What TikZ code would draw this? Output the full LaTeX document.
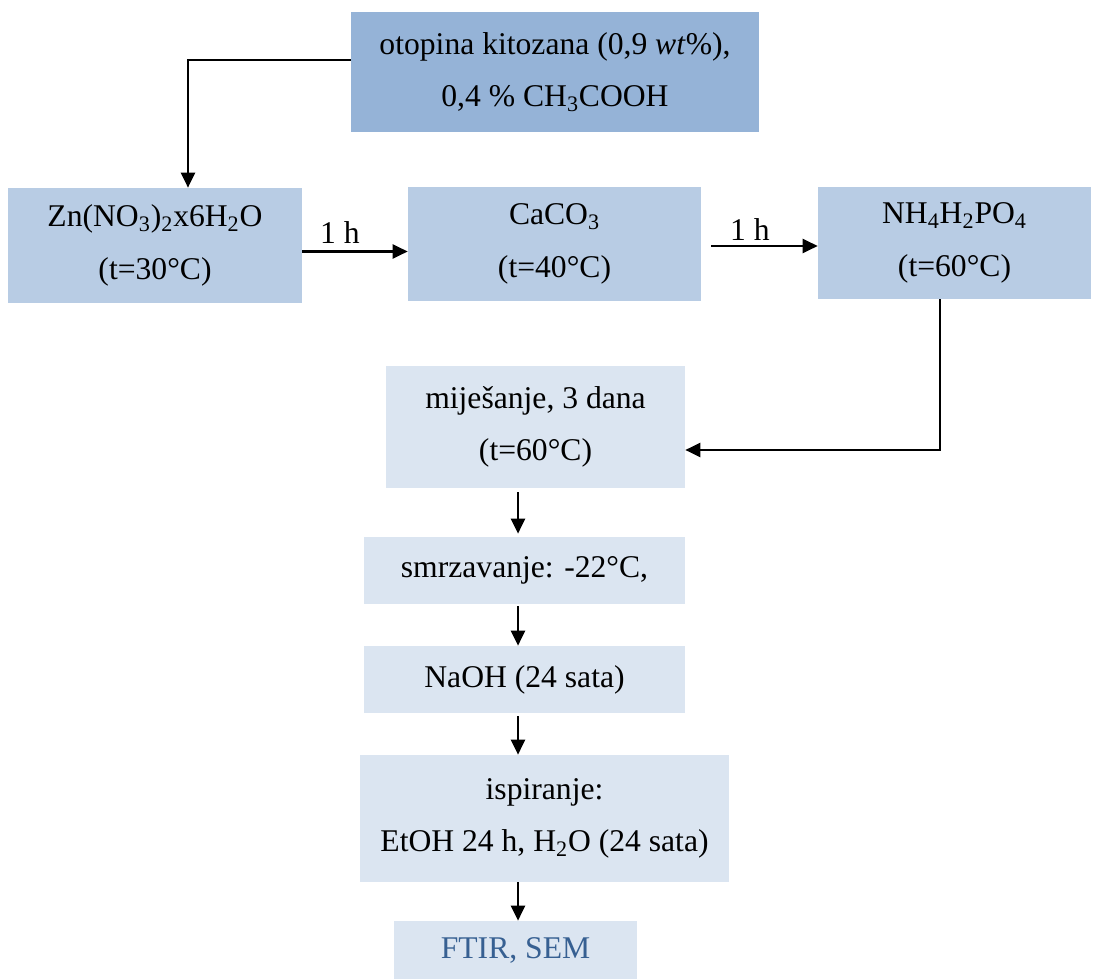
\documentclass[tikz,border=0pt]{standalone}
\usepackage{fontspec}
\setmainfont{Liberation Serif}
\usetikzlibrary{arrows.meta}
\definecolor{boxdark}{HTML}{95B3D7}
\definecolor{boxmid}{HTML}{B8CCE4}
\definecolor{boxlight}{HTML}{DBE5F1}
\definecolor{textblue}{HTML}{376092}
\begin{document}
\begin{tikzpicture}[x=0.02cm,y=-0.02cm,
  box/.style={inner sep=0pt,align=center,font=\fontsize{18}{30}\selectfont},
  lbl/.style={font=\fontsize{18}{22}\selectfont},
  flow/.style={line width=1.4pt,-{Triangle[length=3mm,width=2.8mm]}}]
\useasboundingbox (0,0) rectangle (1097,979);
\node[box,fill=boxdark,minimum width=8.16cm,minimum height=2.4cm] (top) at (555,72) {otopina kitozana (0,9 \textit{wt}\%),\\0,4 \% CH\textsubscript{3}COOH};
\node[box,fill=boxmid,minimum width=5.88cm,minimum height=2.3cm] (zn) at (155,245.5) {Zn(NO\textsubscript{3})\textsubscript{2}x6H\textsubscript{2}O\\(t=30°C)};
\node[box,fill=boxmid,minimum width=5.86cm,minimum height=2.28cm] (ca) at (554.5,244) {CaCO\textsubscript{3}\\(t=40°C)};
\node[box,fill=boxmid,minimum width=5.46cm,minimum height=2.24cm] (nh) at (954.5,243) {NH\textsubscript{4}H\textsubscript{2}PO\textsubscript{4}\\(t=60°C)};
\node[box,fill=boxlight,minimum width=5.98cm,minimum height=2.44cm] (mij) at (535.5,427) {miješanje, 3 dana\\(t=60°C)};
\node[box,fill=boxlight,minimum width=6.42cm,minimum height=1.34cm] (smr) at (524.5,570.5) {smrzavanje: -22°C,};
\node[box,fill=boxlight,minimum width=6.42cm,minimum height=1.34cm] (naoh) at (524.5,679.5) {NaOH (24 sata)};
\node[box,fill=boxlight,minimum width=7.38cm,minimum height=2.54cm] (isp) at (544.5,818.5) {ispiranje:\\EtOH 24 h, H\textsubscript{2}O (24 sata)};
\node[box,fill=boxlight,minimum width=4.86cm,minimum height=1.16cm,text=textblue] (ftir) at (515.5,950) {FTIR, SEM};
\node[lbl] (h1) at (340,233) {1 h};
\node[lbl] (h2) at (750,230) {1 h};
\coordinate (axis) at (518,0);
\draw[flow] ([yshift=0.24cm]top.west) -| ([xshift=0.66cm]zn.north);
\draw[flow] ([yshift=-0.12cm]zn.east) coordinate (a1) -- (ca.west |- a1);
\draw[flow] ([xshift=0.2cm,yshift=-0.04cm]ca.east) coordinate (a2) -- (nh.west |- a2);
\draw[flow] ([xshift=-0.29cm]nh.south) |- ([yshift=-0.46cm]mij.east);
\draw[flow,shorten <=0.08cm,shorten >=0.06cm] (mij.south -| axis) -- (smr.north -| axis);
\draw[flow,shorten <=0.04cm] (smr.south -| axis) -- (naoh.north -| axis);
\draw[flow,shorten <=0.06cm] (naoh.south -| axis) -- (isp.north -| axis);
\draw[flow] (isp.south -| axis) -- (ftir.north -| axis);
\end{tikzpicture}
\end{document}
